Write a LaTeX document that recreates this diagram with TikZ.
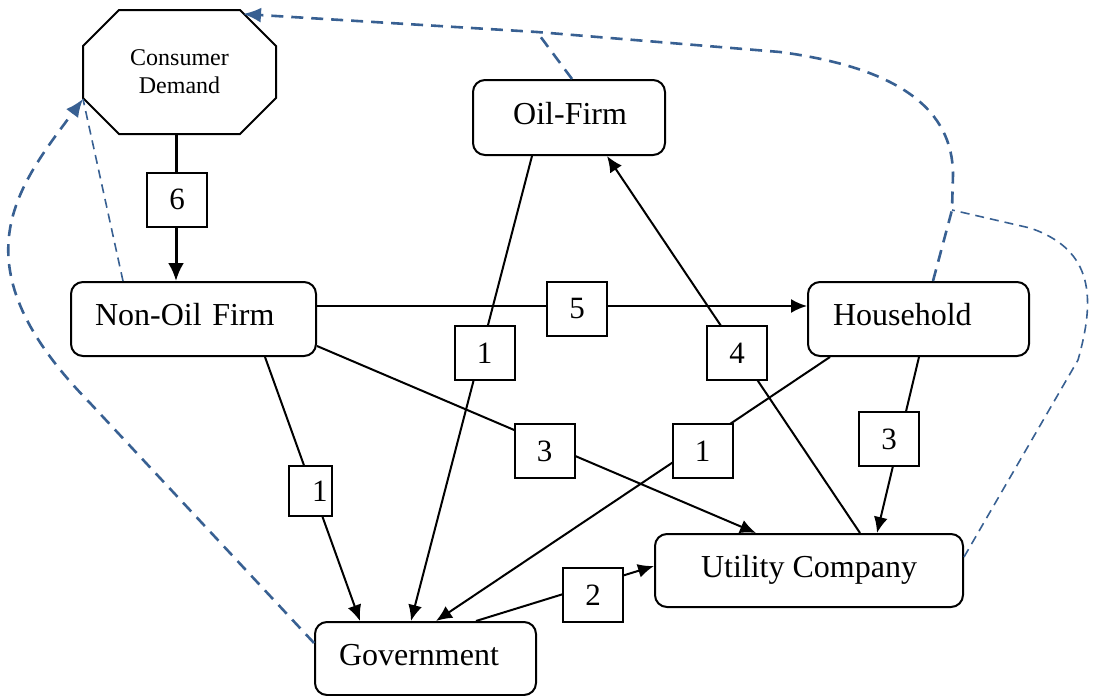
\documentclass[tikz,border=0pt]{standalone}
\usepackage{fontspec}
\setmainfont{Liberation Serif}
\usetikzlibrary{arrows.meta}
\definecolor{dblue}{RGB}{56,96,146}
\begin{document}
\begin{tikzpicture}[x=0.5pt,y=-0.5pt,
  mbox/.style={draw, fill=white, rounded corners=6pt, line width=1pt, inner ysep=0pt,
    font=\fontsize{16}{19}\selectfont, text height=11pt, text depth=4.4pt},
  lbl/.style={draw, fill=white, line width=1pt, minimum width=30pt, minimum height=27pt,
    inner sep=0pt, font=\fontsize{15.5}{18}\selectfont},
  edgearrow/.style={line width=1pt, -{Latex[length=8pt,width=7pt]}},
  dthick/.style={draw=dblue, line width=1.3pt, dash pattern=on 6pt off 4pt},
  dthin/.style={draw=dblue, line width=0.8pt, dash pattern=on 4.5pt off 3pt},
  barrow/.style={-{Latex[length=9pt,width=7.5pt]}, dblue}
]
\useasboundingbox (0,0) rectangle (1094,696);

% Consumer Demand octagon
\node[minimum width=96.5pt, minimum height=62pt, inner sep=0pt, outer sep=0pt,
  align=center, font=\fontsize{12}{14}\selectfont] (cd) at (179.5,72) {Consumer\\Demand};
\draw[line width=1pt] ([xshift=18pt]cd.north west) -- ([xshift=-18pt]cd.north east)
  -- ([yshift=-18pt]cd.north east) -- ([yshift=18pt]cd.south east)
  -- ([xshift=-18pt]cd.south east) -- ([xshift=18pt]cd.south west)
  -- ([yshift=18pt]cd.south west) -- ([yshift=-18pt]cd.north west) -- cycle;

% main boxes
\node[mbox, minimum width=96pt, minimum height=37.5pt, inner xsep=19pt, text width=58pt, align=right]
  (oil) at (569,117.5) {Oil-Firm};
\node[mbox, minimum width=122.5pt, minimum height=37pt, inner xsep=12pt, text width=98.5pt, align=left]
  (nonoil) at (193.5,319) {Non-Oil Firm};
\node[mbox, minimum width=110.5pt, minimum height=37pt, inner xsep=12.5pt, text width=85.5pt, align=left]
  (hh) at (918.5,319) {Household};
\node[mbox, minimum width=154pt, minimum height=36.5pt]
  (util) at (809,570.5) {Utility Company};
\node[mbox, minimum width=110.5pt, minimum height=36.5pt, inner xsep=12pt, text width=86.5pt, align=left]
  (gov) at (425.5,658.5) {Government};

% connectors
\draw[line width=1.5pt, -{Latex[length=9pt,width=8pt]}] ([xshift=-1.75pt]cd.south) -- ([xshift=-8.75pt]nonoil.north);
\draw[edgearrow] ([yshift=6.5pt]nonoil.east) -- ([yshift=6.5pt]hh.west);
\draw[edgearrow] ([xshift=-18.5pt]oil.south) -- ([xshift=-7.25pt]gov.north);
\draw[edgearrow] ([xshift=25.5pt]util.north) -- ([xshift=19pt]oil.south);
\draw[edgearrow] ([yshift=-13.5pt]nonoil.east) -- ([xshift=-26.5pt]util.north);
\draw[edgearrow] ([xshift=-44.25pt]hh.south) -- ([xshift=5.25pt]gov.north);
\draw[edgearrow] ([xshift=0.25pt]hh.south) -- ([xshift=34pt]util.north);
\draw[edgearrow] ([xshift=35.75pt]nonoil.south) -- ([xshift=-32.75pt]gov.north);
\draw[edgearrow] ([xshift=25.25pt]gov.north) -- ([yshift=2.25pt]util.west);

% dashed feedback lines
\coordinate (j1) at (952,210);
\coordinate (j2) at (537,32);
\coordinate (tipA) at ([xshift=-16.5pt,yshift=-2pt]cd.north east);
\coordinate (tipB) at ([yshift=17.5pt]cd.south west);
\draw[dthick, barrow] ([xshift=7.25pt]hh.north) -- (j1) -- (953,175)
  .. controls (953,110) and (900,68) .. (780,52) -- (j2) -- (tipA);
\draw[dthick] ([xshift=1.5pt]oil.north) -- (j2);
\draw[dthin] ([yshift=6.75pt]util.east) -- (1078,360)
  .. controls (1095,300) and (1095,250) .. (1030,228) -- (j1);
\draw[dthick, barrow] ([yshift=7.75pt]gov.west) -- (90,403)
  .. controls (-45,265) and (15,190) .. (tipB);
\draw[dthin] ([xshift=-35.25pt]nonoil.north) -- (tipB);

% labels
\node[lbl] (l6) at (177,199.5) {6};
\node[lbl] (l5) at (577,309) {5};
\node[lbl] (l1a) at (484.5,353) {1};
\node[lbl] (l4) at (737,353) {4};
\node[lbl] (l3a) at (544.5,451) {3};
\node[lbl] (l1b) at (702.5,451) {1};
\node[lbl] (l3b) at (889,439) {3};
\node[lbl, minimum width=21.5pt, minimum height=25pt, inner xsep=2pt, text width=17.5pt, align=right]
  (l1c) at (310,491) {1};
\node[lbl] (l2) at (593,595) {2};
\end{tikzpicture}
\end{document}
